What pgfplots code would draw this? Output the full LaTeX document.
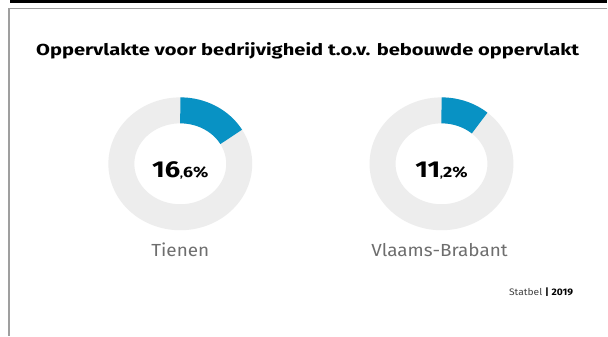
\documentclass[border=0pt]{standalone}
\usepackage{pgfplots}
\pgfplotsset{compat=1.18}
\usepackage{fontspec}
\setmainfont{Fira Sans}[FakeStretch=1.08]
\definecolor{sblue}{RGB}{8,146,196}
\definecolor{sgrey}{RGB}{237,237,237}
\definecolor{lblgrey}{RGB}{110,110,110}
\begin{document}
\begin{tikzpicture}
\begin{axis}[
  width=608pt, height=336pt, scale only axis,
  xmin=0, xmax=608, ymin=0, ymax=336, y dir=reverse,
  hide axis, clip=false]
% background and frame
\addplot[draw=none, fill=white] coordinates {(0,0) (608,0) (608,336) (0,336)} -- cycle;
\fill[black] (axis cs:10,0) rectangle (axis cs:608,3);
\draw[gray!75, line width=1.4pt] (axis cs:608,8.5) -- (axis cs:9,8.5) -- (axis cs:9,336);
% donut Tienen: 16.6 %
\addplot[sgrey, line width=26pt, domain=0:360, samples=140] ({180.5+59*sin(x)}, {164-53.5*cos(x)});
\addplot[sblue, line width=26pt, domain=0:16.6*3.6, samples=40] ({180.5+59*sin(x)}, {164-53.5*cos(x)});
% donut Vlaams-Brabant: 11.2 %
\addplot[sgrey, line width=26pt, domain=0:360, samples=140] ({442+59*sin(x)}, {164-53.5*cos(x)});
\addplot[sblue, line width=26pt, domain=0:11.2*3.6, samples=30] ({442+59*sin(x)}, {164-53.5*cos(x)});
% texts
\node[anchor=base, inner sep=0pt] at (axis cs:308,56) {\scalebox{1.165}[1]{\bfseries\fontsize{16}{18}\selectfont Oppervlakte voor bedrijvigheid t.o.v. bebouwde oppervlakt}};
\node[anchor=base, inner sep=0pt] at (axis cs:180.5,177.5) {\scalebox{1.1}[1]{\bfseries{\fontsize{23}{25}\selectfont 16},{\fontsize{15}{17}\selectfont 6\%}}};
\node[anchor=base, inner sep=0pt] at (axis cs:442,177.5) {\scalebox{1.1}[1]{\bfseries{\fontsize{23}{25}\selectfont 11},{\fontsize{15}{17}\selectfont 2\%}}};
\node[anchor=base, inner sep=0pt, text=lblgrey] at (axis cs:180.5,257) {\fontsize{17.5}{20}\selectfont Tienen};
\node[anchor=base, inner sep=0pt, text=lblgrey] at (axis cs:440,257) {\fontsize{17.5}{20}\selectfont Vlaams-Brabant};
\node[anchor=base east, inner sep=0pt] at (axis cs:574,296) {\fontsize{9.5}{11}\selectfont \textcolor{black!75}{Statbel} \textbf{|} \textbf{2019}};
\end{axis}
\end{tikzpicture}
\end{document}
